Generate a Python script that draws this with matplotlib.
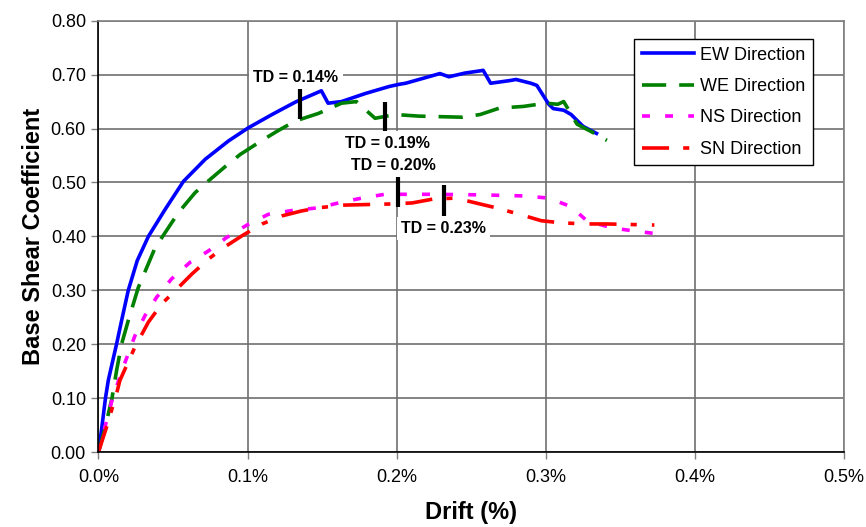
import matplotlib
matplotlib.use('Agg')
import matplotlib.pyplot as plt
from matplotlib.ticker import FuncFormatter

plt.rcParams['font.family'] = ['Liberation Sans', 'DejaVu Sans']

# drift (%) vs base shear coefficient
ew_x = [0.0, 0.002, 0.0047, 0.0066, 0.0122, 0.016, 0.020, 0.026, 0.0335, 0.0447, 0.057,
        0.0716, 0.0872, 0.1003, 0.1164, 0.132, 0.1495, 0.154, 0.163, 0.179, 0.195, 0.2016,
        0.206, 0.215, 0.229, 0.235, 0.246, 0.256, 0.258, 0.263, 0.276, 0.28, 0.29, 0.294,
        0.302, 0.305, 0.312, 0.317, 0.325, 0.334]
ew_y = [0.0, 0.04, 0.10, 0.133, 0.201, 0.25, 0.30, 0.355, 0.400, 0.450, 0.502,
        0.543, 0.577, 0.601, 0.626, 0.649, 0.670, 0.647, 0.650, 0.665, 0.678, 0.682,
        0.684, 0.691, 0.702, 0.696, 0.703, 0.707, 0.708, 0.684, 0.689, 0.691, 0.684, 0.680,
        0.645, 0.637, 0.634, 0.626, 0.604, 0.591]

we_x = [0.0, 0.004, 0.0091, 0.0122, 0.0156, 0.020, 0.0267, 0.038, 0.0536, 0.0648, 0.0738,
        0.0861, 0.0951, 0.1097, 0.1198, 0.132, 0.1475, 0.163, 0.173, 0.179, 0.1855, 0.199,
        0.215, 0.244, 0.256, 0.269, 0.285, 0.300, 0.308, 0.312, 0.321, 0.330, 0.341]
we_y = [0.0, 0.04, 0.10, 0.152, 0.201, 0.244, 0.305, 0.379, 0.444, 0.481, 0.503,
        0.532, 0.552, 0.578, 0.595, 0.614, 0.628, 0.647, 0.650, 0.635, 0.619, 0.626,
        0.623, 0.621, 0.626, 0.638, 0.641, 0.647, 0.645, 0.650, 0.608, 0.595, 0.578]

ns_x = [0.0, 0.0047, 0.0095, 0.0167, 0.0245, 0.0312, 0.039, 0.049, 0.0615, 0.0738, 0.086,
        0.0996, 0.114, 0.130, 0.1475, 0.161, 0.1766, 0.192, 0.224, 0.256, 0.285, 0.302,
        0.317, 0.3275, 0.344, 0.359, 0.374]
ns_y = [0.0, 0.05, 0.10, 0.158, 0.216, 0.253, 0.287, 0.321, 0.352, 0.373, 0.398,
        0.421, 0.441, 0.448, 0.453, 0.462, 0.471, 0.478, 0.478, 0.477, 0.475, 0.471,
        0.455, 0.429, 0.416, 0.410, 0.405]

sn_x = [0.0, 0.0054, 0.0122, 0.0144, 0.0245, 0.0335, 0.0425, 0.0503, 0.0626, 0.0738,
        0.0839, 0.0962, 0.1097, 0.1231, 0.136, 0.1475, 0.165, 0.195, 0.2104, 0.224, 0.2395,
        0.253, 0.2666, 0.2835, 0.297, 0.3106, 0.3275, 0.341, 0.3728]
sn_y = [0.0, 0.046, 0.109, 0.133, 0.195, 0.241, 0.275, 0.296, 0.330, 0.358,
        0.379, 0.401, 0.423, 0.438, 0.447, 0.453, 0.458, 0.460, 0.462, 0.469, 0.471,
        0.462, 0.453, 0.440, 0.429, 0.425, 0.423, 0.423, 0.421]

# target drift markers
td_x = [0.135, 0.192, 0.201, 0.232]
td_lo = [0.617, 0.593, 0.455, 0.438]
td_hi = [0.674, 0.650, 0.512, 0.495]
td_labels = ['TD = 0.14%', 'TD = 0.19%', 'TD = 0.20%', 'TD = 0.23%']
td_lx = [0.1324, 0.1935, 0.1976, 0.2312]
td_ly = [0.695, 0.573, 0.532, 0.414]

fig = plt.figure(figsize=(8.66, 5.27), dpi=100)
ax = fig.add_axes([0.1137, 0.1423, 0.8609, 0.8184])

lw = 2.6
ax.plot(ew_x, ew_y, color='#0000ff', lw=lw, label='EW Direction')
ax.plot(we_x, we_y, color='#008000', lw=lw, dashes=(6.7, 3.6), label='WE Direction')
ax.plot(ns_x, ns_y, color='#ff00ff', lw=lw, dashes=(2.2, 4.2), label='NS Direction')
ax.plot(sn_x, sn_y, color='#ff0000', lw=lw, dashes=(7.5, 3.9, 1.7, 4.2), label='SN Direction')

for x, lo, hi, lab, lx, ly in zip(td_x, td_lo, td_hi, td_labels, td_lx, td_ly):
    ax.plot([x, x], [lo, hi], color='black', lw=3, solid_capstyle='butt')
    ax.text(lx, ly, lab, fontsize=11.5, fontweight='bold', ha='center', va='center',
            bbox=dict(facecolor='white', edgecolor='none', pad=3))

ax.set_xlim(0, 0.5)
ax.set_ylim(0, 0.8)
ax.set_xticks([0, 0.1, 0.2, 0.3, 0.4, 0.5])
ax.set_yticks([i / 10 for i in range(9)])
ax.xaxis.set_major_formatter(FuncFormatter(lambda v, p: '{:.1f}%'.format(v)))
ax.yaxis.set_major_formatter(FuncFormatter(lambda v, p: '{:.2f}'.format(v)))
ax.grid(True, color='#707070', lw=1.2)
ax.set_axisbelow(True)
for s in ['top', 'right']:
    ax.spines[s].set_color('#808080')
    ax.spines[s].set_linewidth(1.2)
for s in ['left', 'bottom']:
    ax.spines[s].set_color('black')
    ax.spines[s].set_linewidth(1.2)
ax.tick_params(labelsize=13, length=5, width=1, color='#808080', pad=4)
ax.tick_params(axis='x', pad=7)

ax.set_xlabel('Drift (%)', fontsize=17, fontweight='bold', labelpad=11)
ax.set_ylabel('Base Shear Coefficient', fontsize=17, fontweight='bold', labelpad=4)

leg = ax.legend(loc='upper right', bbox_to_anchor=(0.958, 0.9576), fontsize=13,
                frameon=True, fancybox=False, edgecolor='black', framealpha=1,
                handlelength=2.9, handletextpad=0.3, borderpad=0.42, labelspacing=0.8,
                borderaxespad=0)
leg.get_frame().set_linewidth(1)

fig.savefig('out.png', dpi=100)
